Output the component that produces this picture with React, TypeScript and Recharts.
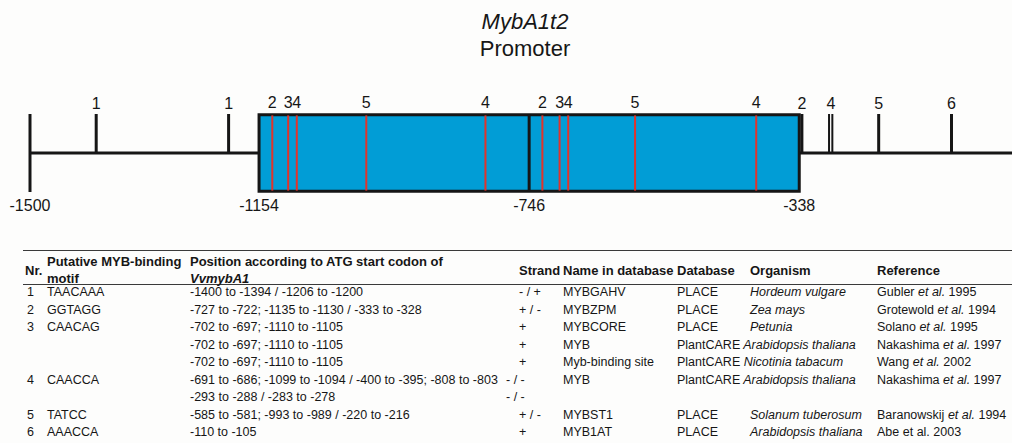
import { ComposedChart, Line, XAxis, YAxis, ReferenceLine, ReferenceArea } from "recharts";

// promoter scale, bp relative to ATG
const axisTicks = [-1500, -1154, -746, -338, -1];
const repeatStart = -1154;
const repeatMiddle = -746;
const repeatEnd = -338;

// backbone line, broken where the repeat box sits
const backbone = [
  { pos: -1500, level: 50 },
  { pos: -1154, level: 50 },
  { pos: -746, level: null },
  { pos: -338, level: 50 },
  { pos: 0, level: 50 },
];

// motif sites outside the repeat (black ticks)
const flankPos = [-1400, -1200, -334, -293, -288, -218, -108];
const flankMotif = ["1", "1", "2", "4", "", "5", "6"];

// motif sites inside the repeat (red lines)
const repeatPos = [-1134, -1110, -1097, -992, -812, -726, -700, -687, -586, -403];
const repeatMotif = ["2", "3", "4", "5", "4", "2", "3", "4", "5", "4"];

// table
const rowNr = ["1", "2", "3", "", "", "4", "", "5", "6"];
const rowMotif = ["TAACAAA", "GGTAGG", "CAACAG", "", "", "CAACCA", "", "TATCC", "AAACCA"];
const rowPosition = [
  "-1400 to -1394 / -1206 to -1200",
  "-727 to -722; -1135 to -1130 / -333 to -328",
  "-702 to -697; -1110 to -1105",
  "-702 to -697; -1110 to -1105",
  "-702 to -697; -1110 to -1105",
  "-691 to -686; -1099 to -1094 / -400 to -395; -808 to -803",
  "-293 to -288 / -283 to -278",
  "-585 to -581; -993 to -989 / -220 to -216",
  "-110 to -105",
];
const rowStrand = ["- / +", "+ / -", "+", "+", "+", "- / -", "- / -", "+ / -", "+"];
const rowName = ["MYBGAHV", "MYBZPM", "MYBCORE", "MYB", "Myb-binding site", "MYB", "", "MYBST1", "MYB1AT"];
const rowDatabase = ["PLACE", "PLACE", "PLACE", "PlantCARE", "PlantCARE", "PlantCARE", "", "PLACE", "PLACE"];
const rowOrganism = [
  "Hordeum vulgare",
  "Zea mays",
  "Petunia",
  "Arabidopsis thaliana",
  "Nicotinia tabacum",
  "Arabidopsis thaliana",
  "",
  "Solanum tuberosum",
  "Arabidopsis thaliana",
];
const rowAuthor = ["Gubler", "Grotewold", "Solano", "Nakashima", "Wang", "Nakashima", "", "Baranowskij", "Abe"];
const rowYear = ["1995", "1994", "1995", "1997", "2002", "1997", "", "1994", "2003"];
const rowEtAlItalic = [true, true, true, true, true, true, true, true, false];

const FONT = '"Liberation Sans", Arial, sans-serif';
const INK = "#161616";
const BLUE = "#019dd6";
const RED = "#e2332b";

const col = { nr: 25, motif: 47, position: 190, strand: 519, name: 563, db: 677, org: 750, ref: 877 };
const ROW_TOP = 284.4;
const ROW_H = 17.5;

function Cell({ x, top, children, bold, italic, size = 12.5, lh = ROW_H }: any) {
  return (
    <div
      style={{
        position: "absolute",
        left: x,
        top,
        fontSize: size,
        lineHeight: `${lh}px`,
        fontWeight: bold ? "bold" : "normal",
        fontStyle: italic ? "italic" : "normal",
        whiteSpace: "nowrap",
        color: INK,
      }}
    >
      {children}
    </div>
  );
}

function MotifTable() {
  const h1 = 252.6;
  const h2 = 269.6;
  const hm = 261.6;
  return (
    <>
      <div style={{ position: "absolute", left: 23, top: 249.5, width: 989, height: 1.5, background: "#3a3a3a" }} />
      <div style={{ position: "absolute", left: 23, top: 284, width: 989, height: 1, background: "#3a3a3a" }} />
      <Cell x={col.nr} top={hm} bold size={13} lh={17}>Nr.</Cell>
      <Cell x={col.motif} top={h1} bold size={13} lh={17}>Putative MYB-binding</Cell>
      <Cell x={col.motif} top={h2} bold size={13} lh={17}>motif</Cell>
      <Cell x={col.position} top={h1} bold size={13} lh={17}>Position according to ATG start codon of</Cell>
      <Cell x={col.position} top={h2} bold italic size={13} lh={17}>VvmybA1</Cell>
      <Cell x={col.strand} top={hm} bold size={13} lh={17}>Strand</Cell>
      <Cell x={col.name} top={hm} bold size={13} lh={17}>Name in database</Cell>
      <Cell x={col.db} top={hm} bold size={13} lh={17}>Database</Cell>
      <Cell x={col.org} top={hm} bold size={13} lh={17}>Organism</Cell>
      <Cell x={col.ref} top={hm} bold size={13} lh={17}>Reference</Cell>
      {rowPosition.map((pos, i) => {
        const top = ROW_TOP + i * ROW_H;
        const plantCare = rowDatabase[i] === "PlantCARE";
        return (
          <div key={i}>
            <Cell x={col.nr + 2} top={top}>{rowNr[i]}</Cell>
            <Cell x={col.motif} top={top}>{rowMotif[i]}</Cell>
            <Cell x={col.position} top={top}>{pos}</Cell>
            <Cell x={rowStrand[i] === "- / -" ? col.strand - 13 : col.strand} top={top}>{rowStrand[i]}</Cell>
            <Cell x={col.name} top={top}>{rowName[i]}</Cell>
            <Cell x={col.db} top={top}>
              {rowDatabase[i]}
              {plantCare && <i> {rowOrganism[i]}</i>}
            </Cell>
            {!plantCare && (
              <Cell x={col.org} top={top} italic>{rowOrganism[i]}</Cell>
            )}
            {rowAuthor[i] && (
              <Cell x={col.ref} top={top}>
                {rowAuthor[i]} {rowEtAlItalic[i] ? <i>et al.</i> : "et al."} {rowYear[i]}
              </Cell>
            )}
          </div>
        );
      })}
    </>
  );
}

export default function App() {
  return (
    <div
      style={{
        position: "absolute",
        left: 0,
        top: 0,
        width: 1012,
        height: 443,
        overflow: "hidden",
        background: "#fdfdfc",
        fontFamily: FONT,
      }}
    >
      <div style={{ position: "absolute", left: 0, width: 1050, top: 8, textAlign: "center", fontSize: 22, lineHeight: "27px", color: INK }}>
        <i>MybA1t2</i>
        <br />
        Promoter
      </div>
      <div style={{ position: "absolute", left: 0, top: 0 }}>
        <ComposedChart width={1040} height={230} data={backbone} margin={{ top: 114, right: 17, bottom: 8, left: 30 }}>
          <XAxis
            dataKey="pos"
            type="number"
            domain={[-1500, 0]}
            ticks={axisTicks}
            interval={0}
            allowDataOverflow
            axisLine={false}
            tickLine={false}
            height={30}
            tick={{ fontSize: 16, fill: INK, fontFamily: FONT }}
          />
          <YAxis type="number" domain={[0, 100]} hide />
          <Line
            dataKey="level"
            type="linear"
            stroke={INK}
            strokeWidth={3}
            dot={false}
            activeDot={false}
            connectNulls={false}
            isAnimationActive={false}
          />
          <ReferenceLine segment={[{ x: -1500, y: 0 }, { x: -1500, y: 100 }]} stroke={INK} strokeWidth={3} />
          <ReferenceArea
            x1={repeatStart}
            x2={repeatEnd}
            y1={1}
            y2={99}
            fill={BLUE}
            fillOpacity={1}
            stroke={INK}
            strokeWidth={3}
          />
          {repeatPos.map((p, i) => (
            <ReferenceLine
              key={`r${i}`}
              segment={[{ x: p, y: 1.8 }, { x: p, y: 98.2 }]}
              stroke={RED}
              strokeWidth={2}
              label={{ value: repeatMotif[i], position: "top", offset: 7, fontSize: 16, fill: INK, fontFamily: FONT }}
            />
          ))}
          <ReferenceLine segment={[{ x: repeatMiddle, y: 1 }, { x: repeatMiddle, y: 99 }]} stroke={INK} strokeWidth={3} />
          {flankPos.map((p, i) => (
            <ReferenceLine
              key={`f${i}`}
              segment={[{ x: p, y: 50 }, { x: p, y: 100 }]}
              stroke={INK}
              strokeWidth={p > -300 && p < -280 ? 2 : 3}
              label={{ value: flankMotif[i], position: "top", offset: 5, fontSize: 16, fill: INK, fontFamily: FONT, dx: p === -293 ? 2 : 0 }}
            />
          ))}
        </ComposedChart>
      </div>
      <MotifTable />
    </div>
  );
}
